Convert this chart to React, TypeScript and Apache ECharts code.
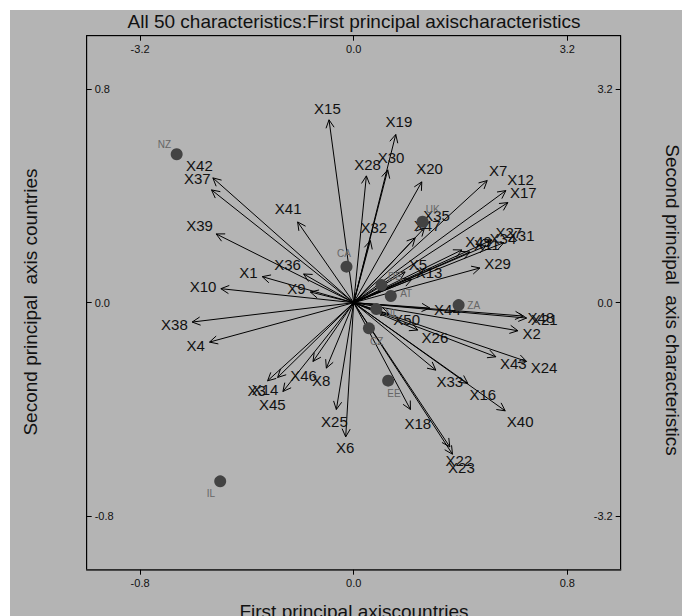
import React, { useEffect, useRef } from "react";
import * as echarts from "echarts";

// Countries (first/second principal axis, country scale)
const countryNames = ["NZ", "CA", "UK", "DE", "AT", "NL", "CZ", "ZA", "EE", "IL"];
const countryX = [-0.663, -0.027, 0.258, 0.104, 0.139, 0.085, 0.057, 0.393, 0.129, -0.5];
const countryY = [0.556, 0.135, 0.303, 0.066, 0.025, -0.024, -0.096, -0.009, -0.292, -0.669];

// Characteristics (characteristic scale)
const charNames = [
  "X1", "X2", "X3", "X4", "X5", "X6", "X7", "X8", "X9", "X10",
  "X11", "X12", "X13", "X14", "X15", "X16", "X17", "X18", "X19", "X20",
  "X21", "X22", "X23", "X24", "X25", "X26", "X27", "X28", "X29", "X30",
  "X31", "X32", "X33", "X34", "X35", "X36", "X37", "X38", "X39", "X40",
  "X41", "X42", "X43", "X44", "X45", "X46", "X47", "X48", "X49", "X50",
];
const charX = [
  -1.37, 2.46, -1.29, -2.16, 0.77, -0.12, 2.0, -0.41, -0.65, -1.99,
  1.74, 2.28, 0.87, -1.14, -0.37, 1.71, 2.31, 0.85, 0.63, 1.02,
  2.59, 1.44, 1.48, 2.59, -0.26, 0.96, 2.07, 0.19, 1.89, 0.51,
  2.25, 0.25, 1.23, 1.98, 1.06, -0.75, -2.13, -2.42, -2.06, 2.27,
  -0.84, -2.11, 2.13, 1.14, -1.06, -0.61, 0.92, 2.54, 1.62, 0.53,
];
const charY = [
  0.39, -0.42, -1.17, -0.59, 0.46, -2.01, 1.83, -0.98, 0.16, 0.21,
  0.76, 1.68, 0.35, -1.12, 2.74, -1.21, 1.5, -1.6, 2.52, 1.81,
  -0.23, -2.16, -2.27, -0.88, -1.6, -0.41, 0.94, 1.9, 0.52, 1.99,
  0.9, 0.93, -1.01, 0.85, 1.12, 0.43, 1.69, -0.29, 1.03, -1.62,
  1.21, 1.87, -0.81, -0.08, -1.33, -0.88, 0.97, -0.2, 0.79, -0.17,
];

const countryTicks = [-0.8, 0, 0.8];
const charTicks = [-3.2, 0, 3.2];

const FONT = "'Liberation Sans', Arial, sans-serif";
const BG = "#b4b4b4";

export default function App() {
  const ref = useRef<HTMLDivElement>(null);

  useEffect(() => {
    if (!ref.current) return;
    const chart = echarts.init(ref.current, null, { renderer: "svg" });

    const fmt = (v: number) => Number(v).toFixed(1);

    const axisCommon = (min: number, max: number, ticks: number[], inside: boolean) => ({
      type: "value",
      min,
      max,
      splitLine: { show: false },
      axisLine: { show: true, onZero: false, lineStyle: { color: "#000", width: 1 } },
      axisTick: {
        show: true,
        inside,
        length: 5,
        customValues: ticks,
        lineStyle: { color: "#000" },
      },
      axisLabel: {
        show: true,
        inside,
        customValues: ticks,
        formatter: fmt,
        color: "#111",
        fontSize: 11,
        fontFamily: FONT,
        margin: 8,
      },
    });

    const arrowData = charX.map((x, i) => [x, charY[i]]);
    const countryData = countryX.map((x, i) => [x, countryY[i]]);

    const titleStyle = {
      fontSize: 19,
      fontFamily: FONT,
      fill: "#111",
      align: "center",
      verticalAlign: "middle",
    };

    const option: any = {
      animation: false,
      backgroundColor: BG,
      grid: {
        left: 76.7,
        top: 25.7,
        width: 534,
        height: 534,
        show: true,
        borderColor: "#000",
        borderWidth: 1,
        backgroundColor: "transparent",
      },
      xAxis: [
        { ...axisCommon(-1, 1, countryTicks, false), position: "bottom", axisLine: { show: true, onZero: false, lineStyle: { color: "#333", width: 1.5 } } },
        { ...axisCommon(-4, 4, charTicks, true), position: "top" },
      ],
      yAxis: [
        { ...axisCommon(-1, 1, countryTicks, true), position: "left" },
        { ...axisCommon(-4, 4, charTicks, true), position: "right" },
      ],
      graphic: [
        {
          type: "text",
          x: 344,
          y: 11,
          style: { ...titleStyle, text: "All 50 characteristics:First principal axischaracteristics" },
        },
        {
          type: "text",
          x: 344,
          y: 601,
          style: { ...titleStyle, text: "First principal axiscountries" },
        },
        {
          type: "text",
          x: 20,
          y: 292,
          rotation: Math.PI / 2,
          style: { ...titleStyle, text: "Second principal  axis countries" },
        },
        {
          type: "text",
          x: 662,
          y: 290,
          rotation: -Math.PI / 2,
          style: { ...titleStyle, text: "Second principal  axis characteristics" },
        },
      ],
      series: [
        {
          type: "custom",
          name: "characteristics",
          xAxisIndex: 1,
          yAxisIndex: 1,
          silent: true,
          clip: false,
          data: arrowData,
          renderItem: (params: any, api: any) => {
            const i = params.dataIndex;
            const o = api.coord([0, 0]);
            const p = api.coord([api.value(0), api.value(1)]);
            const dx = p[0] - o[0];
            const dy = p[1] - o[1];
            const len = Math.hypot(dx, dy) || 1;
            const ux = dx / len;
            const uy = dy / len;
            const hl = 9;
            const a = (27 * Math.PI) / 180;
            const bx = -ux;
            const by = -uy;
            const w1 = [
              p[0] + hl * (bx * Math.cos(a) - by * Math.sin(a)),
              p[1] + hl * (bx * Math.sin(a) + by * Math.cos(a)),
            ];
            const w2 = [
              p[0] + hl * (bx * Math.cos(-a) - by * Math.sin(-a)),
              p[1] + hl * (bx * Math.sin(-a) + by * Math.cos(-a)),
            ];
            const name = charNames[i];
            const halfW = (10 + 8.3 * (name.length - 1)) / 2;
            const halfH = 6;
            const r = 4 + Math.abs(ux) * halfW + Math.abs(uy) * halfH;
            return {
              type: "group",
              children: [
                {
                  type: "line",
                  shape: { x1: o[0], y1: o[1], x2: p[0], y2: p[1] },
                  style: { stroke: "#000", lineWidth: 1 },
                },
                {
                  type: "polyline",
                  shape: { points: [w1, p, w2] },
                  style: { stroke: "#000", fill: null, lineWidth: 1 },
                },
                {
                  type: "text",
                  x: p[0] + ux * r,
                  y: p[1] + uy * r,
                  style: {
                    text: name,
                    fontSize: 15,
                    fontFamily: FONT,
                    fill: "#111",
                    align: "center",
                    verticalAlign: "middle",
                  },
                },
              ],
            };
          },
        },
        {
          type: "custom",
          name: "countries",
          xAxisIndex: 0,
          yAxisIndex: 0,
          silent: true,
          clip: false,
          data: countryData,
          renderItem: (params: any, api: any) => {
            const i = params.dataIndex;
            const o = api.coord([0, 0]);
            const p = api.coord([api.value(0), api.value(1)]);
            const dx = p[0] - o[0];
            const dy = p[1] - o[1];
            const len = Math.hypot(dx, dy) || 1;
            const ux = dx / len;
            const uy = dy / len;
            const r = 8 + Math.abs(ux) * 7 + Math.abs(uy) * 4;
            return {
              type: "group",
              children: [
                {
                  type: "circle",
                  shape: { cx: p[0], cy: p[1], r: 6 },
                  style: { fill: "#434343" },
                },
                {
                  type: "text",
                  x: p[0] + ux * r,
                  y: p[1] + uy * r,
                  style: {
                    text: countryNames[i],
                    fontSize: 10,
                    fontFamily: FONT,
                    fill: "#666",
                    align: "center",
                    verticalAlign: "middle",
                  },
                },
              ],
            };
          },
        },
      ],
    };

    chart.setOption(option);
    return () => chart.dispose();
  }, []);

  return (
    <div
      ref={ref}
      style={{ position: "fixed", left: 10, top: 10, width: 672, height: 606 }}
    />
  );
}
